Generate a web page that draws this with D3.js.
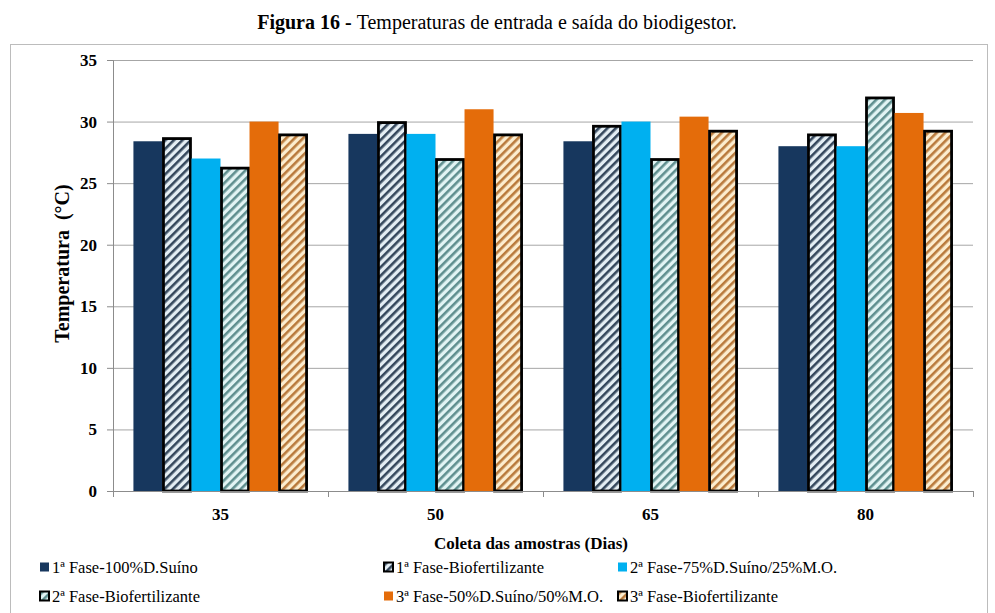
<!DOCTYPE html>
<meta charset="utf-8">
<body style="margin:0">
<script src="https://d3js.org/d3.v7.min.js"></script>
<script>
// data
var dias = ["35", "50", "65", "80"];
var series = ["1ª Fase-100%D.Suíno", "1ª Fase-Biofertilizante", "2ª Fase-75%D.Suíno/25%M.O.",
              "2ª Fase-Biofertilizante", "3ª Fase-50%D.Suíno/50%M.O.", "3ª Fase-Biofertilizante"];
var fase1 = [28.4, 29.0, 28.4, 28.0];
var fase1Bio = [28.7, 30.0, 29.7, 29.0];
var fase2 = [27.0, 29.0, 30.0, 28.0];
var fase2Bio = [26.3, 27.0, 27.0, 32.0];
var fase3 = [30.0, 31.0, 30.4, 30.7];
var fase3Bio = [29.0, 29.0, 29.3, 29.3];
var yTicks = [0, 5, 10, 15, 20, 25, 30, 35];

var values = [fase1, fase1Bio, fase2, fase2Bio, fase3, fase3Bio];

// fills: solid colours or hatch patterns
var fills = ["#17375e", "url(#hatch1)", "#00b0f0", "url(#hatch2)", "#e46c0a", "url(#hatch3)"];
var hatched = [false, true, false, true, false, true];

var serif = "'Liberation Serif', 'Times New Roman', serif";

var margin = { top: 60, right: 22, bottom: 122, left: 113 },
    width = 995 - margin.left - margin.right,
    height = 613 - margin.top - margin.bottom;

var svg0 = d3.select("body").append("svg")
    .attr("width", 995)
    .attr("height", 613)
    .attr("font-family", serif);

// hatch patterns
var defs = svg0.append("defs");
function hatch(id, bg, fg) {
    var p = defs.append("pattern")
        .attr("id", id)
        .attr("patternUnits", "userSpaceOnUse")
        .attr("width", 6)
        .attr("height", 6)
        .attr("patternTransform", "rotate(45)");
    p.append("rect").attr("width", 6).attr("height", 6).attr("fill", bg);
    p.append("rect").attr("width", 2.6).attr("height", 6).attr("fill", fg);
}
hatch("hatch1", "#e4eef4", "#34475c");
hatch("hatch2", "#e2f4f4", "#5f8f8f");
hatch("hatch3", "#fcedcf", "#b97a3c");

// outer frame
svg0.append("rect")
    .attr("x", 10.5).attr("y", 44.5)
    .attr("width", 977).attr("height", 600)
    .attr("fill", "none")
    .attr("stroke", "#bcbcbc");

// title
var title = svg0.append("text")
    .attr("x", 497)
    .attr("y", 29)
    .attr("text-anchor", "middle")
    .style("font-family", serif)
    .style("font-size", "20px");
title.append("tspan").style("font-weight", "bold").text("Figura 16 - ");
title.append("tspan").text("Temperaturas de entrada e saída do biodigestor.");

var svg = svg0.append("g")
    .attr("transform", "translate(" + margin.left + "," + margin.top + ")");

// scales
var x0 = d3.scaleBand().domain(dias).range([0, width])
    .paddingInner(0.19).paddingOuter(0.095);
var x1 = d3.scaleBand().domain(d3.range(series.length)).range([0, x0.bandwidth()]);
var y = d3.scaleLinear().domain([0, 35]).range([height, 0]);

// gridlines
var grid = svg.append("g")
    .call(d3.axisLeft(y).tickValues(yTicks.slice(1)).tickSize(-width).tickFormat(""));
grid.select(".domain").remove();
grid.selectAll("line").attr("stroke", "#a6a6a6");

// bars
var groups = svg.selectAll(".grupo")
    .data(dias)
    .enter().append("g")
    .attr("class", "grupo")
    .attr("transform", function(d) { return "translate(" + x0(d) + ",0)"; });

groups.selectAll("rect")
    .data(function(d, i) { return values.map(function(v, s) { return { s: s, v: v[i] }; }); })
    .enter().append("rect")
    .attr("x", function(d) { return x1(d.s) + (hatched[d.s] ? 1 : 0); })
    .attr("width", function(d) { return x1.bandwidth() - (hatched[d.s] ? 2 : 0); })
    .attr("y", function(d) { return y(d.v) + (hatched[d.s] ? 1 : 0); })
    .attr("height", function(d) { return height - y(d.v) - (hatched[d.s] ? 1 : 0); })
    .attr("fill", function(d) { return fills[d.s]; })
    .attr("stroke", function(d) { return hatched[d.s] ? "#000" : "none"; })
    .attr("stroke-width", 2.8);

// y axis
var yAxis = svg.append("g")
    .call(d3.axisLeft(y).tickValues(yTicks).tickSize(6).tickPadding(10))
    .attr("font-family", serif);
yAxis.selectAll("line").attr("stroke", "#8c8c8c");
yAxis.select(".domain").attr("stroke", "#8c8c8c");
yAxis.selectAll("text").style("font-family", serif).style("font-weight", "bold").style("font-size", "17px");

// x axis with ticks at category boundaries
var xAxis = svg.append("g")
    .attr("transform", "translate(0," + height + ")")
    .call(d3.axisBottom(x0).tickSize(0).tickPadding(17))
    .attr("font-family", serif);
xAxis.select(".domain").attr("stroke", "#8c8c8c").attr("d", "M0,0.5H" + width);
xAxis.selectAll("text").style("font-family", serif).style("font-weight", "bold").style("font-size", "17px");
xAxis.selectAll(".sep")
    .data(d3.range(dias.length + 1))
    .enter().append("line")
    .attr("class", "sep")
    .attr("x1", function(d) { return d * x0.step() + 0.5; })
    .attr("x2", function(d) { return d * x0.step() + 0.5; })
    .attr("y1", 0).attr("y2", 6)
    .attr("stroke", "#8c8c8c");

// axis titles
svg.append("text")
    .attr("transform", "translate(-44," + (height / 2 - 12) + ") rotate(-90)")
    .attr("text-anchor", "middle")
    .style("font-family", serif)
    .style("font-weight", "bold")
    .style("font-size", "20px")
    .style("white-space", "pre")
    .text("Temperatura  (°C)");

svg.append("text")
    .attr("x", width / 2 - 12)
    .attr("y", height + 58)
    .attr("text-anchor", "middle")
    .style("font-family", serif)
    .style("font-weight", "bold")
    .style("font-size", "17px")
    .text("Coleta das amostras (Dias)");

// legend
var legX = [39, 383, 617], legY = [573, 602];
var leg = svg0.selectAll(".leg")
    .data(series)
    .enter().append("g")
    .attr("class", "leg")
    .attr("transform", function(d, i) {
        return "translate(" + legX[i % 3] + "," + legY[Math.floor(i / 3)] + ")";
    });
leg.append("rect")
    .attr("x", 1).attr("y", -10.5)
    .attr("width", 9).attr("height", 9)
    .attr("fill", function(d, i) { return fills[i]; })
    .attr("stroke", function(d, i) { return hatched[i] ? "#000" : "none"; })
    .attr("stroke-width", 2);
leg.append("text")
    .attr("x", 13)
    .attr("y", 0)
    .style("font-family", serif)
    .style("font-size", "16.5px")
    .text(function(d) { return d; });
</script>
</body>
